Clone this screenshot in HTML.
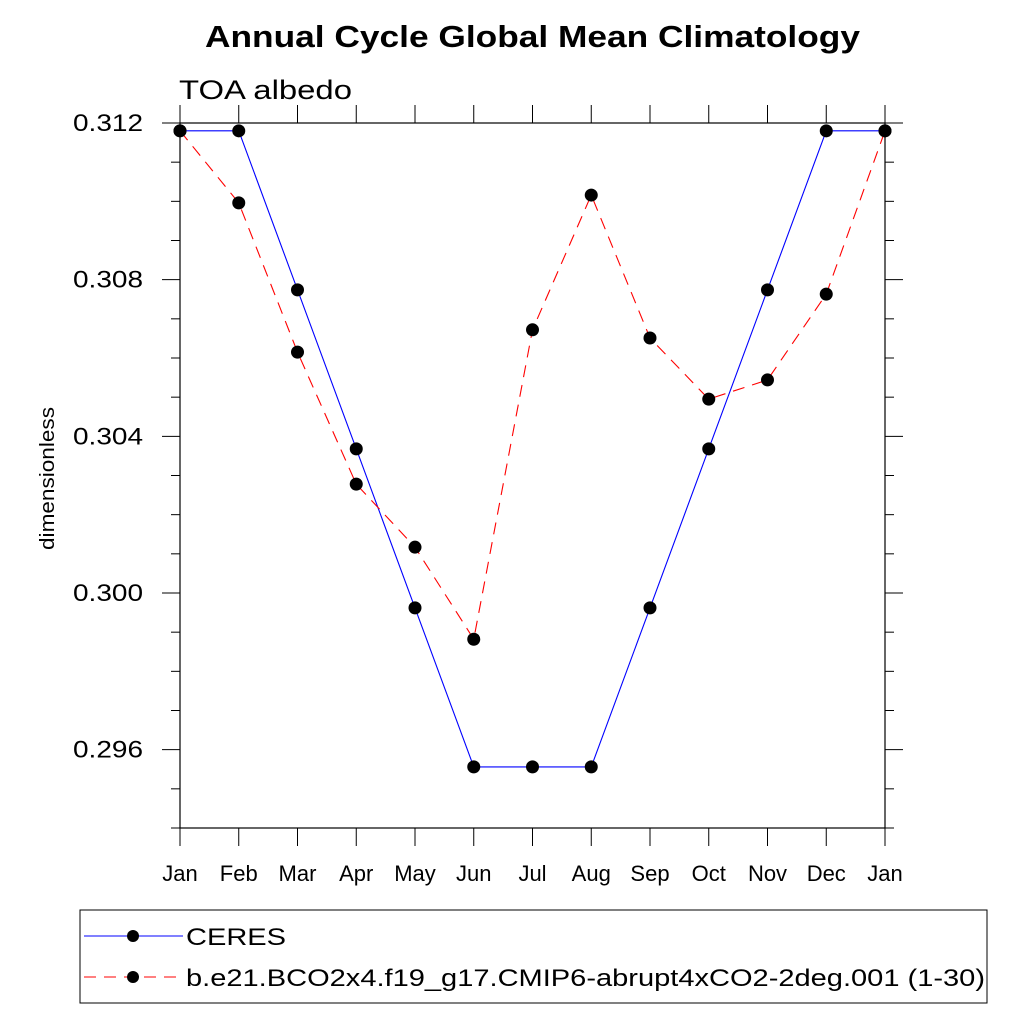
<!DOCTYPE html>
<html><head><meta charset="utf-8"><style>
body{margin:0;background:#fff;}
svg{display:block;font-family:"Liberation Sans",sans-serif;}
</style></head><body>
<svg id="chart" width="1024" height="1024" viewBox="0 0 1024 1024">
<text x="205" y="47" textLength="655" lengthAdjust="spacingAndGlyphs" font-size="31" font-weight="bold">Annual Cycle Global Mean Climatology</text>
<text x="179" y="99" textLength="173" lengthAdjust="spacingAndGlyphs" font-size="27">TOA albedo</text>
<text transform="translate(54,550) rotate(-90)" x="0" y="0" textLength="143" lengthAdjust="spacingAndGlyphs" font-size="20">dimensionless</text>
<g id="axes"></g>
<g id="series"></g>
<g>
<rect x="80" y="910" width="907" height="93" fill="#fff" stroke="#000" stroke-width="1"/>
<g>
<line x1="84" y1="936" x2="183" y2="936" stroke="#0000ff" stroke-width="1"/>
<circle cx="133" cy="936" r="6" fill="#000"/>
<text x="186" y="945" textLength="100" lengthAdjust="spacingAndGlyphs" font-size="24">CERES</text>
</g>
<g>
<line x1="84" y1="977" x2="183" y2="977" stroke="#ff0000" stroke-width="1" stroke-dasharray="12,8"/>
<circle cx="133" cy="977" r="6" fill="#000"/>
<text x="186" y="986" textLength="799" lengthAdjust="spacingAndGlyphs" font-size="24">b.e21.BCO2x4.f19_g17.CMIP6-abrupt4xCO2-2deg.001 (1-30)</text>
</g>
</g>
</svg>
<script>
const months = ["Jan","Feb","Mar","Apr","May","Jun","Jul","Aug","Sep","Oct","Nov","Dec","Jan"];
const ceres = [0.3118,0.3118,0.30774,0.30368,0.29962,0.29556,0.29556,0.29556,0.29962,0.30368,0.30774,0.3118,0.3118];
const model = [0.3118,0.30996,0.30615,0.30278,0.30117,0.29882,0.30672,0.31016,0.30651,0.30495,0.30544,0.30763,0.3118];
const yTicks = [0.312,0.308,0.304,0.300,0.296];
const yTickLabels = ["0.312","0.308","0.304","0.300","0.296"];
const yMin = 0.294, yMax = 0.312;
const L=180,R=885,T=123,B=828;
const NS="http://www.w3.org/2000/svg";
function xs(i){return L+(R-L)*i/(months.length-1);}
function ys(v){return B-(v-yMin)/(yMax-yMin)*(B-T);}
function mk(tag,attrs,parent){const e=document.createElementNS(NS,tag);for(const k in attrs)e.setAttribute(k,attrs[k]);parent.appendChild(e);return e;}
const ax=document.getElementById('axes');
const frame=mk('rect',{x:L,y:T,width:R-L,height:B-T,fill:'none',stroke:'#000','stroke-width':1.2},ax);


for(let v=yMin;v<=yMax+1e-9;v+=0.001){
  const y=ys(v);
  const major=yTicks.some(t=>Math.abs(t-v)<1e-7);
  const len=major?18:9;
  const t1=mk('line',{x1:L-len,y1:y,x2:L,y2:y,stroke:'#000','stroke-width':1},ax);
  
  
  const t2=mk('line',{x1:R,y1:y,x2:R+len,y2:y,stroke:'#000','stroke-width':1},ax);
  
  
}
yTicks.forEach((t,i)=>{
  const tx=mk('text',{x:73,y:ys(t)+8,textLength:70,lengthAdjust:'spacingAndGlyphs','font-size':24},ax);
  tx.textContent=yTickLabels[i];
  
  
});
months.forEach((m,i)=>{
  const x=xs(i);
  const a=mk('line',{x1:x,y1:B,x2:x,y2:B+18,stroke:'#000','stroke-width':1},ax);
  
  
  const b=mk('line',{x1:x,y1:T-18,x2:x,y2:T,stroke:'#000','stroke-width':1},ax);
  
  
  const tx=mk('text',{x:x,y:881,'text-anchor':'middle','font-size':22},ax);
  tx.textContent=m;
  
  
});
const sg=document.getElementById('series');
function drawSeries(vals,color,dash,name){
  const g=mk('g',{},sg);
  
  
  const pts=vals.map((v,i)=>xs(i)+','+ys(v)).join(' ');
  const attrs={points:pts,fill:'none',stroke:color,'stroke-width':1.1};
  if(dash)attrs['stroke-dasharray']=dash;
  const pl=mk('polyline',attrs,g);
  
  
  vals.forEach((v,i)=>{
    const c=mk('circle',{cx:xs(i),cy:ys(v),r:6.5,fill:'#000'},g);
    
    
  });
}
drawSeries(ceres,'#0000ff',null,'ceres-series');
drawSeries(model,'#ff0000','12,8','model-series');
</script>
</body></html>
